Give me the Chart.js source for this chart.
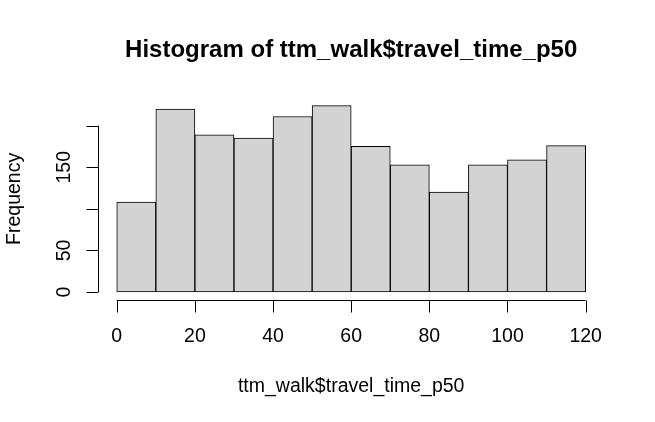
<!DOCTYPE html>
<html>
<head>
<meta charset="utf-8">
<script src="https://cdn.jsdelivr.net/npm/chart.js@4"></script>
<style>
  html, body { margin: 0; padding: 0; background: #fff; }
  #wrap { width: 655px; height: 422px; }
</style>
</head>
<body>
<div id="wrap"><canvas id="hist" width="655" height="422"></canvas></div>
<script>
// histogram of ttm_walk$travel_time_p50
const breaks = [0, 10, 20, 30, 40, 50, 60, 70, 80, 90, 100, 110, 120];
const counts = [108, 220, 189, 185, 211, 224, 175, 153, 120, 153, 159, 176];
const xTicks = [0, 20, 40, 60, 80, 100, 120];
const yTicks = [0, 50, 100, 150, 200];
const yTickLabels = ['0', '50', '', '150', ''];

const titleText = 'Histogram of ttm_walk$travel_time_p50';
const xLabel = 'ttm_walk$travel_time_p50';
const yLabel = 'Frequency';

const FONT = '"Liberation Sans", Arial, sans-serif';

const bars = counts.map((c, i) => ({ x: (breaks[i] + breaks[i + 1]) / 2, y: c }));

// R extends the data range by 4% on each side
const xSpan = breaks[breaks.length - 1] - breaks[0];
const yMax = Math.max(...counts);

const rAxes = {
  id: 'rAxes',
  afterDraw(chart) {
    const ctx = chart.ctx;
    const xs = chart.scales.x;
    const ys = chart.scales.y;
    const area = chart.chartArea;
    const tick = 12;
    ctx.save();
    ctx.strokeStyle = '#000';
    ctx.fillStyle = '#000';
    ctx.lineWidth = 1;

    // x axis
    const ax = Math.round(area.bottom) + 0.5;
    ctx.beginPath();
    ctx.moveTo(xs.getPixelForValue(xTicks[0]), ax);
    ctx.lineTo(xs.getPixelForValue(xTicks[xTicks.length - 1]), ax);
    xTicks.forEach(v => {
      const px = Math.round(xs.getPixelForValue(v)) + 0.5;
      ctx.moveTo(px, ax);
      ctx.lineTo(px, ax + tick);
    });
    ctx.stroke();
    ctx.font = '19.5px ' + FONT;
    ctx.textAlign = 'center';
    ctx.textBaseline = 'alphabetic';
    xTicks.forEach(v => {
      ctx.fillText(String(v), xs.getPixelForValue(v), 342);
    });

    // y axis
    const ay = Math.round(area.left) + 0.5;
    ctx.beginPath();
    ctx.moveTo(ay, ys.getPixelForValue(yTicks[0]));
    ctx.lineTo(ay, ys.getPixelForValue(yTicks[yTicks.length - 1]));
    yTicks.forEach(v => {
      const py = Math.round(ys.getPixelForValue(v)) + 0.5;
      ctx.moveTo(ay, py);
      ctx.lineTo(ay - tick, py);
    });
    ctx.stroke();
    yTicks.forEach((v, i) => {
      if (!yTickLabels[i]) return;
      ctx.save();
      ctx.translate(70, ys.getPixelForValue(v));
      ctx.rotate(-Math.PI / 2);
      ctx.fillText(yTickLabels[i], 0, 0);
      ctx.restore();
    });

    // axis titles
    const cx = (area.left + area.right) / 2;
    const cy = (area.top + area.bottom) / 2;
    ctx.fillText(xLabel, cx, 392);
    ctx.save();
    ctx.translate(20, cy);
    ctx.rotate(-Math.PI / 2);
    ctx.fillText(yLabel, 0, 0);
    ctx.restore();

    // main title
    ctx.font = 'bold 24px ' + FONT;
    ctx.fillText(titleText, cx, 57);
    ctx.restore();
  }
};

new Chart(document.getElementById('hist'), {
  type: 'bar',
  data: {
    datasets: [{
      data: bars,
      backgroundColor: '#d3d3d3',
      borderColor: '#000',
      borderWidth: 1,
      borderSkipped: false,
      barPercentage: 1,
      categoryPercentage: 1
    }]
  },
  options: {
    responsive: false,
    animation: false,
    layout: {
      padding: { left: 98, right: 50.6, top: 98.2, bottom: 122.5 }
    },
    scales: {
      x: {
        type: 'linear',
        display: false,
        offset: false,
        min: breaks[0] - 0.04 * xSpan,
        max: breaks[breaks.length - 1] + 0.04 * xSpan
      },
      y: {
        type: 'linear',
        display: false,
        min: -0.04 * yMax,
        max: yMax * 1.04
      }
    },
    plugins: {
      legend: { display: false },
      tooltip: { enabled: false }
    }
  },
  plugins: [rAxes]
});
</script>
</body>
</html>
